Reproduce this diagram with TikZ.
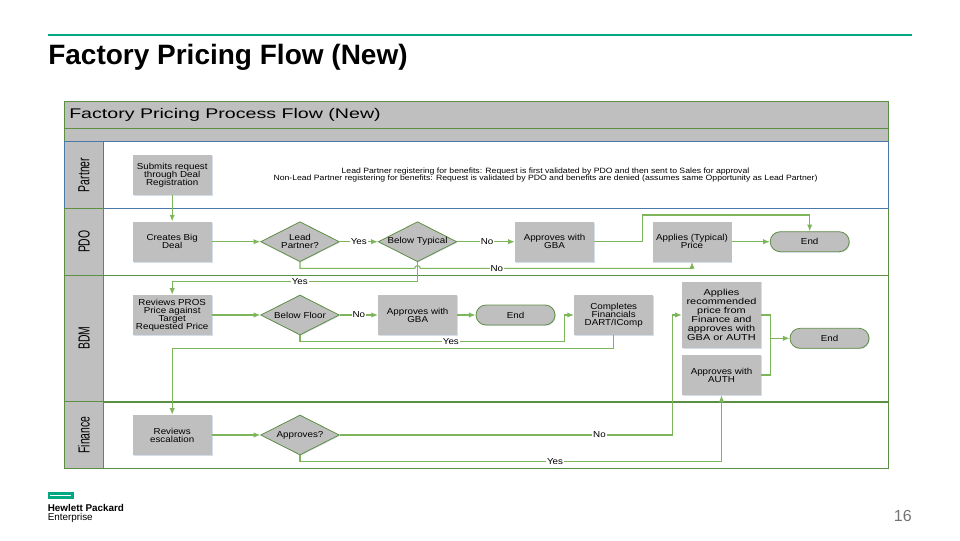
\documentclass[tikz,border=0pt]{standalone}
\usepackage{fontspec}
\setmainfont{Liberation Sans}
\newfontfamily\visfont[FakeStretch=1.13]{Liberation Sans}
\newfontfamily\tallfont[FakeStretch=1.26]{Liberation Sans}
\newfontfamily\headfont[FakeStretch=1.4]{Liberation Sans}
\newfontfamily\lanefont[FakeStretch=0.65]{Liberation Sans}
\usetikzlibrary{shapes.geometric,shapes.misc,arrows.meta,shadows}
\definecolor{teal}{HTML}{01A982}
\definecolor{lanegreen}{HTML}{5B8F42}
\definecolor{laneblue}{HTML}{4A78A8}
\definecolor{linkgreen}{HTML}{7DB65A}
\definecolor{shapegray}{HTML}{BFBFBF}
\definecolor{shapeedge}{HTML}{5F8F45}
\definecolor{softshadow}{HTML}{B8C8DC}
\newcommand{\tightlines}{\lineskiplimit=-20pt\relax}
\tikzset{
  x=0.75pt,y=-0.75pt,
  softdrop/.style={drop shadow={shadow xshift=0.6pt,shadow yshift=-0.6pt,fill=softshadow,opacity=0.6}},
  lanebox/.style={draw=lanegreen,line width=0.75pt,fill=none},
  headband/.style={draw=lanegreen,line width=0.75pt,fill=shapegray},
  lanelabel/.style={rotate=90,font=\lanefont\fontsize{12}{12}\selectfont,text=black},
  taskbox/.style={rectangle,fill=shapegray,softdrop,minimum width=59.25pt,minimum height=30pt,inner sep=0pt,align=center,font=\visfont\fontsize{6.5}{6}\selectfont\tightlines},
  tallbox/.style={taskbox,minimum height=50pt,font=\tallfont\fontsize{6.5}{6.75}\selectfont\tightlines},
  choice/.style={diamond,aspect=2,draw=shapeedge,line width=0.6pt,fill=shapegray,softdrop,minimum width=59pt,minimum height=30pt,inner sep=0pt,align=center,font=\visfont\fontsize{6.5}{6}\selectfont\tightlines},
  finish/.style={rounded rectangle,draw=shapeedge,line width=0.6pt,fill=shapegray,softdrop,minimum width=59.25pt,minimum height=15pt,inner sep=0pt,font=\visfont\fontsize{6.5}{6}\selectfont},
  link/.style={draw=linkgreen,line width=0.8pt,-{Latex[length=5pt,width=4pt]}},
  plainlink/.style={draw=linkgreen,line width=0.8pt},
  tag/.style={fill=white,inner xsep=0.6pt,inner ysep=0pt,font=\visfont\fontsize{6.5}{6}\selectfont},
}
\begin{document}
\begin{tikzpicture}
\useasboundingbox (0,0) rectangle (960,540);
% slide furniture
\draw[teal,line width=1pt] (48,35) -- (912,35);
\node[anchor=west,inner sep=0pt,font=\bfseries\fontsize{21}{22}\selectfont] (slidetitle) at (48,57) {Factory Pricing Flow (New)};
\draw[teal,line width=1.6pt] (49,493.5) rectangle (72.5,497.5);
\node[anchor=west,inner sep=0pt,font=\bfseries\fontsize{7.4}{8}\selectfont] (hp1) at (47.5,507.5) {Hewlett Packard};
\node[anchor=west,inner sep=0pt,font=\fontsize{7.4}{8}\selectfont] (hp2) at (47.5,518) {Enterprise};
\node[anchor=east,inner sep=0pt,text=black!55,font=\fontsize{12}{12}\selectfont] (pageno) at (912,515.5) {16};
% swimlane frame
\path[headband] (64,101.5) rectangle (888.5,128.5);
\path[headband] (64,128.5) rectangle (888.5,141.7);
\node[anchor=west,inner sep=0pt,font=\headfont\fontsize{10.5}{11}\selectfont] (frametitle) at (69,114.5) {Factory Pricing Process Flow (New)};
\path[lanebox] (64,208.5) rectangle (888.5,275);
\path[lanebox] (64,275) rectangle (888.5,401.7);
\path[lanebox] (64,401.7) rectangle (888.5,468);
\draw[lanegreen,line width=1.2pt] (64,401.7) -- (888.5,401.7);
\draw[laneblue,line width=0.75pt] (64,141.7) rectangle (888.5,208.5);
\path[draw=laneblue,line width=0.75pt,fill=shapegray] (64,141.7) rectangle (103.5,208.5);
\path[draw=lanegreen,line width=0.75pt,fill=shapegray] (64,208.5) rectangle (103.5,275);
\path[draw=lanegreen,line width=0.75pt,fill=shapegray] (64,275) rectangle (103.5,401.7);
\path[draw=lanegreen,line width=0.75pt,fill=shapegray] (64,401.7) rectangle (103.5,468);
\node[lanelabel] (lanepartner) at (84,175) {Partner};
\node[lanelabel] (lanepdo) at (84,241.7) {PDO};
\node[lanelabel] (lanebdm) at (84,338.3) {BDM};
\node[lanelabel] (lanefin) at (84,435) {Finance};
% note
\node[inner sep=0pt,align=center,font=\visfont\fontsize{5.75}{5}\selectfont\tightlines] (note) at (545.5,175) {Lead Partner registering for benefits: Request is first validated by PDO and then sent to Sales for approval\\Non-Lead Partner registering for benefits: Request is validated by PDO and benefits are denied (assumes same Opportunity as Lead Partner)};
% nodes
\node[taskbox] (submit) at (172.2,175) {Submits request\\through Deal\\Registration};
\node[taskbox] (creates) at (172.2,241.7) {Creates Big\\Deal};
\node[choice] (lead) at (300,241.7) {Lead\\Partner?};
\node[choice] (typical) at (417.5,241.7) {Below Typical};
\node[taskbox] (gbaone) at (554.5,241.7) {Approves with\\GBA};
\node[taskbox] (applytyp) at (692,241.7) {Applies (Typical)\\Price};
\node[finish] (endone) at (809.7,241.7) {End};
\node[taskbox] (reviews) at (172.2,315) {Reviews PROS\\Price against\\Target\\Requested Price};
\node[choice] (floor) at (300,315) {Below Floor};
\node[taskbox] (gbatwo) at (417.7,315) {Approves with\\GBA};
\node[finish] (endtwo) at (515.5,315) {End};
\node[taskbox] (completes) at (613.7,315) {Completes\\Financials\\DART/IComp};
\node[tallbox] (applyrec) at (721.5,315) {Applies\\recommended\\price from\\Finance and\\approves with\\GBA or AUTH};
\node[taskbox] (auth) at (721.5,375) {Approves with\\AUTH};
\node[finish] (endthree) at (829.5,338.3) {End};
\node[taskbox] (escal) at (172.2,435) {Reviews\\escalation};
\node[choice] (approves) at (300,435) {Approves?};
% routing points
\coordinate (gbaA) at (642.7,241.7);
\coordinate (gbaB) at (642.7,215);
\coordinate (gbaC) at (809.7,215);
\coordinate (jumpL) at (414.8,268.3);
\coordinate (jumpR) at (420.2,268.3);
\coordinate (leadA) at (300,268.3);
\coordinate (leadB) at (692,268.3);
\coordinate (typA) at (417.5,281.7);
\coordinate (typB) at (172.2,281.7);
\coordinate (floorA) at (300,341.7);
\coordinate (floorB) at (564.7,341.7);
\coordinate (floorC) at (564.7,315);
\coordinate (compA) at (613.7,348.3);
\coordinate (compB) at (172.2,348.3);
\coordinate (noA) at (672.7,435);
\coordinate (noB) at (672.7,315);
\coordinate (yesA) at (300,461.7);
\coordinate (yesB) at (721.5,461.7);
\coordinate (mergeT) at (770.3,315);
\coordinate (mergeB) at (770.3,375);
\coordinate (mergeM) at (770.3,338.3);
% connectors
\draw[link] (submit) -- (creates);
\draw[link] (creates) -- (lead);
\draw[link] (lead) -- node[tag]{Yes} (typical);
\draw[link] (typical) -- node[tag,pos=0.52]{No} (gbaone);
\draw[link] (gbaone.east) -- (gbaA) -- (gbaB) -- (gbaC) -- (endone.north);
\draw[link] (applytyp) -- (endone);
\draw[plainlink] (lead.south) -- (leadA) -- (jumpL) arc[start angle=180,end angle=0,radius=2.03pt] -- (leadB) node[pos=0.282,tag]{No};
\draw[link] (leadB) -- (applytyp.south);
\draw[link] (typical.south) -- (typA) -- node[tag,pos=0.48]{Yes} (typB) -- (reviews.north);
\draw[link] (reviews) -- (floor);
\draw[link] (floor) -- node[tag]{No} (gbatwo);
\draw[link] (gbatwo) -- (endtwo);
\draw[link] (floor.south) -- (floorA) -- node[tag,pos=0.57]{Yes} (floorB) -- (floorC) -- (completes.west);
\draw[link] (completes.south) -- (compA) -- (compB) -- (escal.north);
\draw[plainlink] (applyrec.east) -- (mergeT) -- (mergeB) -- (auth.east);
\draw[link] (mergeM) -- (endthree.west);
\draw[link] (escal) -- (approves);
\draw[link] (approves.east) -- node[tag,pos=0.78]{No} (noA) -- (noB) -- (applyrec.west);
\draw[link] (approves.south) -- (yesA) -- node[tag,pos=0.605]{Yes} (yesB) -- (auth.south);
\end{tikzpicture}
\end{document}
